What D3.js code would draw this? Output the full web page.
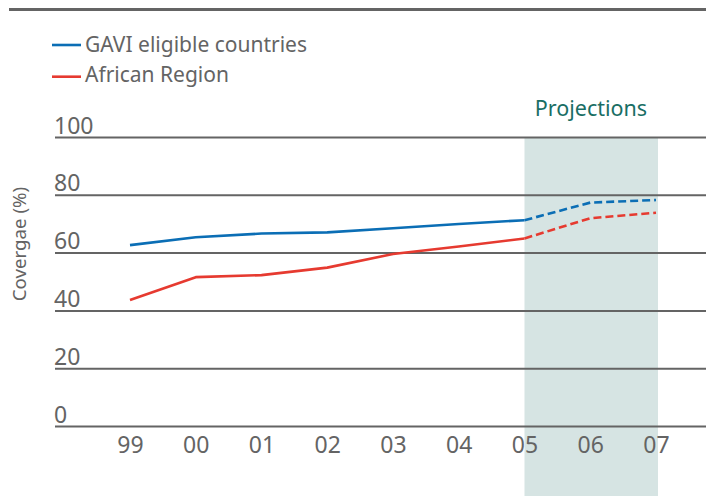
<!DOCTYPE html>
<html><head><meta charset="utf-8">
<script src="https://cdn.jsdelivr.net/npm/d3@7"></script>
<style>
html,body{margin:0;padding:0;background:#fff;}
svg{display:block;}
text{font-family:"Noto Sans","Open Sans",sans-serif;}
</style></head><body>
<svg id="chart" width="706" height="496"></svg>
<script>
const years = ["99","00","01","02","03","04","05","06","07"];
const gavi = [62.6, 65.3, 66.6, 67.0, 68.4, 69.9, 71.2, 77.3, 78.2];
const african = [43.6, 51.5, 52.2, 54.8, 59.5, 62.1, 64.9, 71.9, 73.8];
const yTicks = [0, 20, 40, 60, 80, 100];
const projectionStart = "05";
const projectionEnd = "07";
const seriesNames = ["GAVI eligible countries", "African Region"];
const colors = ["#0b6eb5", "#e63a30"];

const svg = d3.select("#chart");
const grey = "#646464";

const x = d3.scalePoint().domain(years).range([130, 656]);
const y = d3.scaleLinear().domain([0, 100]).range([426, 137]);

// top rule
svg.append("line").attr("x1", 9).attr("x2", 706).attr("y1", 9.5).attr("y2", 9.5)
  .attr("stroke", grey).attr("stroke-width", 3);

// projection shade
svg.append("rect")
  .attr("x", x(projectionStart)).attr("y", y(100))
  .attr("width", x(projectionEnd) - x(projectionStart) + 2)
  .attr("height", 496 - y(100))
  .attr("fill", "#d6e4e3");

svg.append("text").attr("x", 591).attr("y", 116).attr("text-anchor", "middle")
  .attr("font-size", 21.5).attr("fill", "#196e64").text("Projections");

// gridlines + y labels
const yAxis = d3.axisLeft(y).tickValues(yTicks).tickSize(0).tickFormat(d3.format("d"));
const gy = svg.append("g").attr("transform", "translate(55,0)").call(yAxis);
gy.select(".domain").remove();
gy.selectAll(".tick line").attr("x1", 0).attr("x2", 651).attr("stroke", grey).attr("stroke-width", 2);
gy.selectAll(".tick text").attr("x", -1).attr("dy", "-4").attr("text-anchor", "start")
  .attr("font-size", 23).attr("fill", grey).attr("font-family", "Noto Sans");

// x labels
const xAxis = d3.axisBottom(x).tickSize(0);
const gx = svg.append("g").attr("transform", "translate(0,426)").call(xAxis);
gx.select(".domain").remove();
gx.selectAll(".tick text").attr("y", 27).attr("dy", 0)
  .attr("font-size", 23).attr("fill", grey).attr("font-family", "Noto Sans");

// y title
svg.append("text").attr("transform", "translate(26,244) rotate(-90)")
  .attr("text-anchor", "middle").attr("font-size", 18.7).attr("fill", grey)
  .text("Covergae (%)");

// lines
const iSplit = years.indexOf(projectionStart);
const line = d3.line().x((d, i) => x(d.year)).y(d => y(d.v));
[gavi, african].forEach((vals, k) => {
  const pts = years.map((yr, i) => ({year: yr, v: vals[i]}));
  svg.append("path").attr("d", line(pts.slice(0, iSplit + 1)))
    .attr("fill", "none").attr("stroke", colors[k]).attr("stroke-width", 2.6)
    .attr("stroke-linejoin", "round");
  svg.append("path").attr("d", line(pts.slice(iSplit)))
    .attr("fill", "none").attr("stroke", colors[k]).attr("stroke-width", 2.6)
    .attr("stroke-dasharray", "8,4").attr("stroke-linejoin", "round");
});

// legend
const legendLineY = [45, 76.7];
const legendTextY = [52.3, 81.8];
seriesNames.forEach((name, k) => {
  svg.append("line").attr("x1", 52).attr("x2", 81).attr("y1", legendLineY[k]).attr("y2", legendLineY[k])
    .attr("stroke", colors[k]).attr("stroke-width", 2.6);
  svg.append("text").attr("x", 85).attr("y", legendTextY[k]).attr("font-size", 21)
    .attr("fill", grey).text(name);
});
</script>
</body></html>
